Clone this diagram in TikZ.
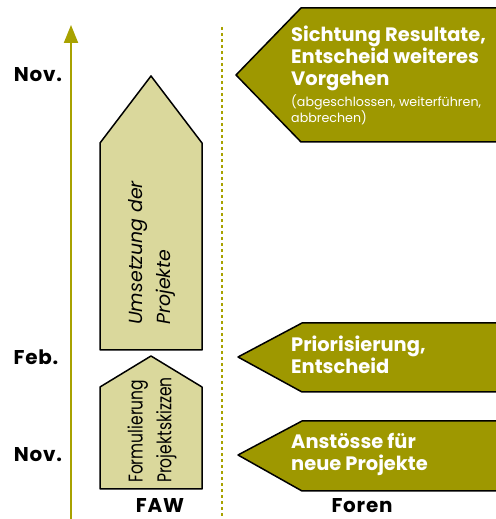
\documentclass[tikz,border=0pt]{standalone}
\usepackage{fontspec}
\setmainfont{Poppins}
\newfontfamily\condfont[FakeStretch=0.78]{Poppins}
\newfontfamily\widefont[LetterSpace=4]{Poppins}
\usetikzlibrary{arrows.meta}
\definecolor{axisolive}{RGB}{168,162,0}
\definecolor{darkolive}{RGB}{158,152,0}
\definecolor{paleolive}{RGB}{218,216,156}
\tikzset{
  month/.style={font=\fontsize{20}{24}\selectfont\widefont\bfseries, inner sep=0},
  forumtext/.style={font=\fontsize{19.5}{22}\selectfont\bfseries, text=white, align=left, inner sep=0, anchor=north west},
  phase/.style={line width=1.5bp, fill=paleolive},
  forum/.style={line width=1.5bp, fill=darkolive}
}
\begin{document}
\begin{tikzpicture}[line cap=round,line join=round,x=1bp,y=1bp]
		\useasboundingbox (0,0) rectangle (496,519);
		\clip (0,0) rectangle (496,519);
		% Zeitachse und Trennlinie
		\draw [-{Triangle[length=18bp,width=14bp]}, line width=2bp, axisolive, line cap=butt] (71,0) -- (71,494);
		\draw [line width=2.5bp, axisolive, dash pattern=on 3bp off 3bp, line cap=butt] (222,492) -- (222,0);
		% FAW
		\draw [phase] (100,169) -- (202,169) -- (202,376) -- (151,443) -- (100,376) -- cycle;
		\draw [phase] (100,30) -- (202,30) -- (202,132) -- (151,163) -- (100,132) -- cycle;
		\node [rotate=90, anchor=west, align=left, inner sep=0, font=\fontsize{19}{29}\selectfont\itshape] (umsetzung) at (152,194) {Umsetzung der\\Projekte};
		\node [rotate=90, anchor=west, align=left, inner sep=0, font=\fontsize{20}{29}\selectfont\condfont] (formulierung) at (152,36) {Formulierung\\Projektskizzen};
		% Foren
		\draw [forum] (510,511) -- (301,511) -- (236,444) -- (301,377) -- (510,377);
		\draw [forum] (510,196) -- (302,196) -- (238,162) -- (302,127) -- (510,127);
		\draw [forum] (510,98) -- (302,98) -- (238,64) -- (302,28) -- (510,28);
		\node [forumtext] (sichtung) at (291,493) {Sichtung Resultate,\\Entscheid weiteres\\Vorgehen};
		\node [forumtext, font=\fontsize{12.7}{17}\selectfont] (varianten) at (291,425) {(abgeschlossen, weiterführen,\\abbrechen)};
		\node [forumtext] (priorisierung) at (291,183) {Priorisierung,\\Entscheid};
		\node [forumtext] (anstoesse) at (291,86) {Anstösse für\\neue Projekte};
		% Monate
		\node [month] (nov2) at (38,444) {Nov.};
		\node [month] (feb) at (36,162) {Feb.};
		\node [month] (nov1) at (38,64) {Nov.};
		\node [month] (faw) at (160,13) {FAW};
		\node [month] (foren) at (362,13) {Foren};
	\end{tikzpicture}
\end{document}
